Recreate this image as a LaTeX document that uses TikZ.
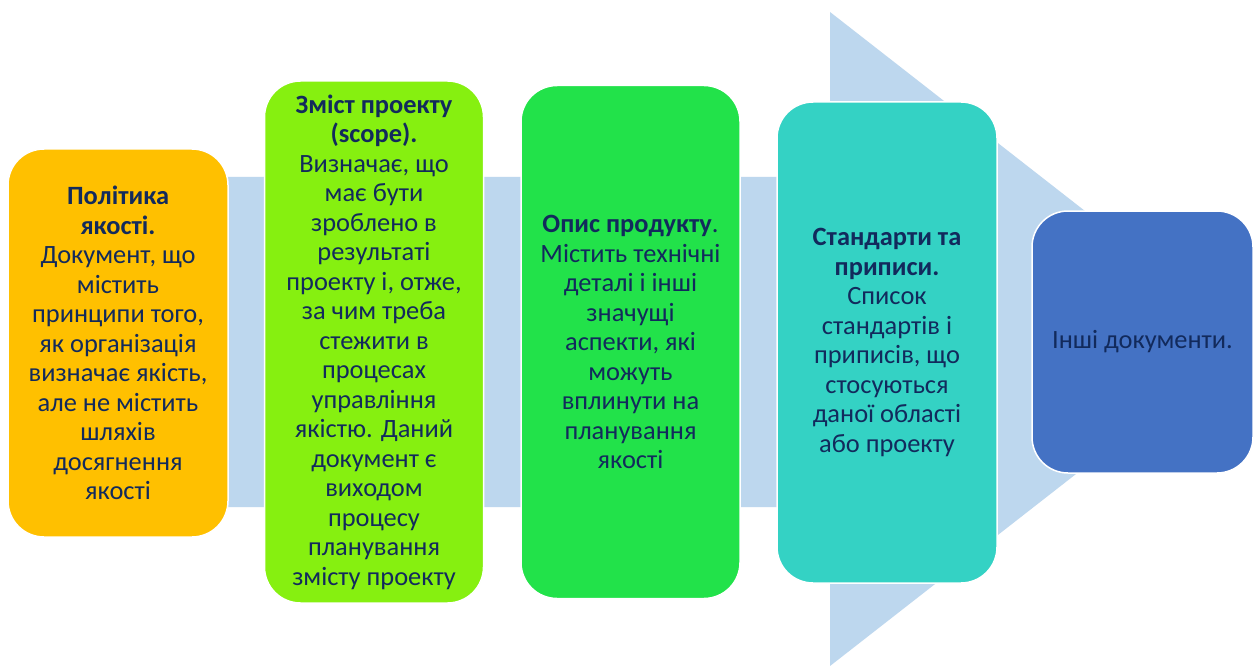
\documentclass[tikz,border=0pt]{standalone}
\usepackage{fontspec}
\setmainfont{Carlito}
\definecolor{arrowblue}{HTML}{BDD7EE}
\definecolor{txt}{HTML}{122A5C}
\definecolor{c1}{HTML}{FFC000}
\definecolor{c2}{HTML}{86F010}
\definecolor{c3}{HTML}{22E24A}
\definecolor{c4}{HTML}{34D2C4}
\definecolor{c5}{HTML}{4472C4}
\begin{document}
\begin{tikzpicture}[x=1pt,y=-1pt,
  box/.style={draw=white, line width=1.5pt, rounded corners=36pt, align=center,
    text=txt, inner sep=0pt, font=\fontsize{26.4}{29.5}\selectfont},
  ]
\useasboundingbox (0,0) rectangle (1259,666);
\fill[white] (0,0) rectangle (1259,666);
% big background arrow
\fill[arrowblue] (30,177) -- (830,177) -- (830,12) -- (1249,339) -- (830,666) -- (830,507) -- (30,507) -- cycle;
% boxes
\node[box, fill=c1, minimum width=220pt, minimum height=388pt] (b1) at (118,343)
  {\textbf{Політика}\\ \textbf{якості.}\\ Документ, що\\ містить\\ принципи того,\\ як організація\\ визначає якість,\\ але не містить\\ шляхів\\ досягнення\\ якості};
\node[box, fill=c2, minimum width=219pt, minimum height=522pt] (b2) at (374,342)
  {\textbf{Зміст проекту}\\ \textbf{(scope).}\\ Визначає, що\\ має бути\\ зроблено в\\ результаті\\ проекту і, отже,\\ за чим треба\\ стежити в\\ процесах\\ управління\\ якістю. Даний\\ документ є\\ виходом\\ процесу\\ планування\\ змісту проекту};
\node[box, fill=c3, minimum width=219pt, minimum height=513pt] (b3) at (630.5,342)
  {\textbf{Опис продукту}.\\ Містить технічні\\ деталі і інші\\ значущі\\ аспекти, які\\ можуть\\ вплинути на\\ планування\\ якості};
\node[box, fill=c4, minimum width=220pt, minimum height=481pt] (b4) at (887,342.5)
  {\textbf{Стандарти та}\\ \textbf{приписи.}\\ Список\\ стандартів і\\ приписів, що\\ стосуються\\ даної області\\ або проекту};
\node[box, fill=c5, minimum width=221pt, minimum height=262pt] (b5) at (1142.5,342)
  {Інші документи.};
\end{tikzpicture}
\end{document}
